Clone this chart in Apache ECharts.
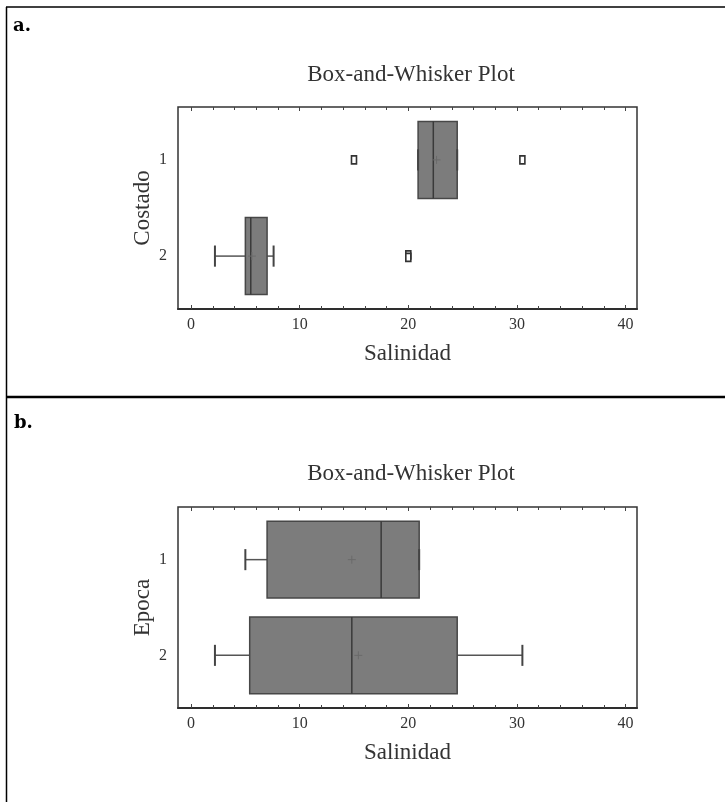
<!DOCTYPE html>
<html>
<head>
<meta charset="utf-8">
<title>Box-and-Whisker Plot</title>
<script src="https://cdn.jsdelivr.net/npm/echarts@6/dist/echarts.min.js"></script>
<style>
  html, body { margin: 0; padding: 0; background: #ffffff; }
  #chart { width: 725px; height: 802px; }
</style>
</head>
<body>
<div id="chart"></div>
<script>
// Panel a: Salinidad by Costado
const categoriesA = ['1', '2'];
const lowA  = [20.9, 2.2];
const q1A   = [20.9, 5.0];
const medA  = [22.3, 5.5];
const q3A   = [24.5, 7.0];
const highA = [24.5, 7.6];
const meanA = [22.6, 5.6];
const outliersA = [[15.0, 30.5], [20.0, 20.0]];

// Panel b: Salinidad by Epoca
const categoriesB = ['1', '2'];
const lowB  = [5.0, 2.2];
const q1B   = [7.0, 5.4];
const medB  = [17.5, 14.8];
const q3B   = [21.0, 24.5];
const highB = [21.0, 30.5];
const meanB = [14.8, 15.4];
const outliersB = [[], []];

// Axis ticks and labels
const xLabelValues = [0, 10, 20, 30, 40];
const xMinorTicks = [0, 2, 4, 6, 8, 10, 12, 14, 16, 18, 20, 22, 24, 26, 28, 30, 32, 34, 36, 38, 40];
const yLabelValues = [1, 2];

const SERIF = '"Liberation Serif", "Times New Roman", serif';
const INK = '#333333';
const X_MIN = -1.2, X_MAX = 41.05;
const Y_MIN = 0.45, Y_MAX = 2.55;

function boxRows(cats, low, q1, med, q3, high, mean) {
  return cats.map((c, i) => [i + 1, low[i], q1[i], med[i], q3[i], high[i], mean[i]]);
}

function outlierRows(outliers) {
  const rows = [];
  outliers.forEach((vals, i) => {
    vals.forEach((v, j) => {
      const before = vals.slice(0, j).filter(u => u === v).length;
      const total = vals.filter(u => u === v).length;
      rows.push([v, i + 1, before, total]);
    });
  });
  return rows;
}

function renderBox(params, api) {
  const y = api.value(0);
  const pLow = api.coord([api.value(1), y]);
  const pQ1 = api.coord([api.value(2), y]);
  const pMed = api.coord([api.value(3), y]);
  const pQ3 = api.coord([api.value(4), y]);
  const pHigh = api.coord([api.value(5), y]);
  const pMean = api.coord([api.value(6), y]);
  const cy = pQ1[1];
  const boxH = api.size([0, 0.8])[1];
  const capH = api.size([0, 0.22])[1];
  const children = [];
  if (pLow[0] < pQ1[0]) {
    children.push({ type: 'line', shape: { x1: pLow[0], y1: cy, x2: pQ1[0], y2: cy },
      style: { stroke: '#555555', lineWidth: 1.5 } });
  }
  if (pHigh[0] > pQ3[0]) {
    children.push({ type: 'line', shape: { x1: pQ3[0], y1: cy, x2: pHigh[0], y2: cy },
      style: { stroke: '#555555', lineWidth: 1.5 } });
  }
  children.push({ type: 'rect',
    shape: { x: pQ1[0], y: cy - boxH / 2, width: pQ3[0] - pQ1[0], height: boxH },
    style: { fill: '#7c7c7c', stroke: '#474747', lineWidth: 1.5 } });
  children.push({ type: 'line', shape: { x1: pMed[0], y1: cy - boxH / 2, x2: pMed[0], y2: cy + boxH / 2 },
    style: { stroke: '#3a3a3a', lineWidth: 1.5 } });
  [pLow, pHigh].forEach(p => {
    children.push({ type: 'line', shape: { x1: p[0], y1: cy - capH / 2, x2: p[0], y2: cy + capH / 2 },
      style: { stroke: '#444444', lineWidth: 2 } });
  });
  children.push({ type: 'line', shape: { x1: pMean[0] - 4, y1: pMean[1], x2: pMean[0] + 4, y2: pMean[1] },
    style: { stroke: '#6a6a6a', lineWidth: 1 } });
  children.push({ type: 'line', shape: { x1: pMean[0], y1: pMean[1] - 4, x2: pMean[0], y2: pMean[1] + 4 },
    style: { stroke: '#6a6a6a', lineWidth: 1 } });
  return { type: 'group', children: children };
}

function renderOutlier(params, api) {
  const p = api.coord([api.value(0), api.value(1)]);
  const shift = (api.value(2) - (api.value(3) - 1) / 2) * 2.5;
  return { type: 'rect',
    shape: { x: p[0] - 2.5, y: p[1] - 4 + shift, width: 5, height: 8 },
    style: { fill: '#ffffff', stroke: '#333333', lineWidth: 1.6 } };
}

function xAxesFor(g) {
  const base = { gridIndex: g, type: 'value', min: X_MIN, max: X_MAX,
    splitLine: { show: false } };
  const tickStyle = { color: '#444444', width: 1 };
  return [
    Object.assign({}, base, {
      position: 'bottom',
      axisLine: { show: true, onZero: false, lineStyle: { color: '#2e2e2e', width: 2 } },
      axisTick: { show: true, inside: true, length: 4, customValues: xLabelValues, lineStyle: tickStyle },
      axisLabel: { show: true, customValues: xLabelValues, margin: 8,
        fontFamily: SERIF, fontSize: 16, color: INK },
      name: 'Salinidad', nameLocation: 'middle', nameGap: 33,
      nameTextStyle: { fontFamily: SERIF, fontSize: 23, color: INK }
    }),
    Object.assign({}, base, {
      position: 'bottom',
      axisLine: { show: false, onZero: false },
      axisTick: { show: true, inside: true, length: 3, customValues: xMinorTicks, lineStyle: tickStyle },
      axisLabel: { show: false }
    }),
    Object.assign({}, base, {
      position: 'top',
      axisLine: { show: false, onZero: false },
      axisTick: { show: true, inside: true, length: 4, customValues: xLabelValues, lineStyle: tickStyle },
      axisLabel: { show: false }
    }),
    Object.assign({}, base, {
      position: 'top',
      axisLine: { show: false, onZero: false },
      axisTick: { show: true, inside: true, length: 3, customValues: xMinorTicks, lineStyle: tickStyle },
      axisLabel: { show: false }
    })
  ];
}

function yAxisFor(g, name, cats) {
  return {
    gridIndex: g, type: 'value', min: Y_MIN, max: Y_MAX, inverse: true,
    axisLine: { show: false }, axisTick: { show: false }, splitLine: { show: false },
    axisLabel: { show: true, customValues: yLabelValues, margin: 11,
      formatter: v => cats[Math.round(v) - 1] || '',
      fontFamily: SERIF, fontSize: 16, color: INK },
    name: name, nameLocation: 'middle', nameGap: 24, nameMoveOverlap: false,
    nameTextStyle: { fontFamily: SERIF, fontSize: 23, color: INK }
  };
}

const gridStyle = { show: true, borderColor: '#333333', borderWidth: 1.5, backgroundColor: 'transparent' };

const option = {
  animation: false,
  backgroundColor: '#ffffff',
  title: [
    { text: 'Box-and-Whisker Plot', left: 406, top: 58, textAlign: 'center',
      textStyle: { fontFamily: SERIF, fontSize: 23, fontWeight: 'normal', color: INK } },
    { text: 'Box-and-Whisker Plot', left: 406, top: 457, textAlign: 'center',
      textStyle: { fontFamily: SERIF, fontSize: 23, fontWeight: 'normal', color: INK } }
  ],
  grid: [
    Object.assign({ left: 178, top: 107, width: 459, height: 202 }, gridStyle),
    Object.assign({ left: 178, top: 507, width: 459, height: 201 }, gridStyle)
  ],
  xAxis: xAxesFor(0).concat(xAxesFor(1)),
  yAxis: [yAxisFor(0, 'Costado', categoriesA), yAxisFor(1, 'Epoca', categoriesB)],
  series: [
    { type: 'custom', xAxisIndex: 0, yAxisIndex: 0, renderItem: renderBox,
      encode: { x: [1, 2, 3, 4, 5, 6], y: 0 },
      data: boxRows(categoriesA, lowA, q1A, medA, q3A, highA, meanA) },
    { type: 'custom', xAxisIndex: 0, yAxisIndex: 0, renderItem: renderOutlier,
      encode: { x: 0, y: 1 }, data: outlierRows(outliersA) },
    { type: 'custom', xAxisIndex: 4, yAxisIndex: 1, renderItem: renderBox,
      encode: { x: [1, 2, 3, 4, 5, 6], y: 0 },
      data: boxRows(categoriesB, lowB, q1B, medB, q3B, highB, meanB) },
    { type: 'custom', xAxisIndex: 4, yAxisIndex: 1, renderItem: renderOutlier,
      encode: { x: 0, y: 1 }, data: outlierRows(outliersB) }
  ],
  graphic: [
    // panel frame lines
    { type: 'line', shape: { x1: 6, y1: 7, x2: 725, y2: 7 }, style: { stroke: '#000000', lineWidth: 1.5 } },
    { type: 'line', shape: { x1: 6.5, y1: 7, x2: 6.5, y2: 802 }, style: { stroke: '#000000', lineWidth: 1.5 } },
    { type: 'line', shape: { x1: 6, y1: 397, x2: 725, y2: 397 }, style: { stroke: '#000000', lineWidth: 2.5 } },
    // panel letters
    { type: 'text', left: 13, top: 17,
      style: { text: 'a.', font: 'bold 18px "DejaVu Serif", serif', fill: '#000000' } },
    { type: 'text', left: 14, top: 414,
      style: { text: 'b.', font: 'bold 18px "DejaVu Serif", serif', fill: '#000000' } }
  ]
};

const chart = echarts.init(document.getElementById('chart'), null, { renderer: 'canvas' });
chart.setOption(option);
</script>
</body>
</html>
